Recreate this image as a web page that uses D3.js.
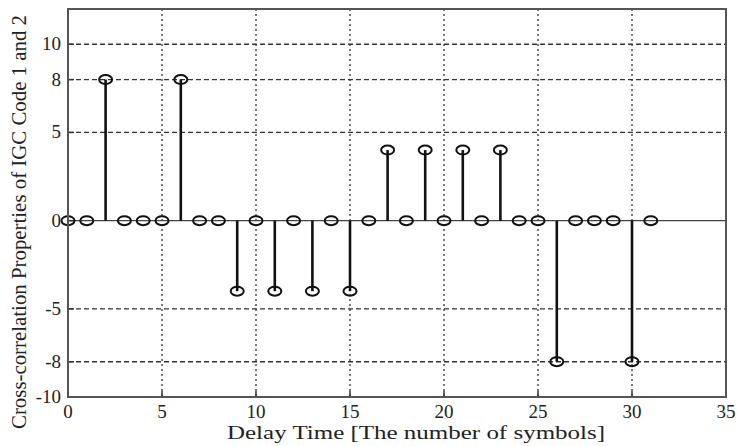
<!DOCTYPE html>
<html>
<head>
<meta charset="utf-8">
<script src="https://cdn.jsdelivr.net/npm/d3@7"></script>
<style>
  body { margin: 0; background: #fff; }
  text { font-family: "Liberation Serif", "Times New Roman", serif; fill: #222; }
</style>
</head>
<body>
<script>
// delay index and cross-correlation value
var delays = d3.range(0, 32);
var corrValues = [0, 0, 8, 0, 0, 0, 8, 0, 0, -4, 0, -4, 0, -4, 0, -4,
                  0, 4, 0, 4, 0, 4, 0, 4, 0, 0, -8, 0, 0, 0, -8, 0];
var xTicks = [0, 5, 10, 15, 20, 25, 30, 35];
var yTicks = [-10, -8, -5, 0, 5, 8, 10];

var W = 737, H = 446;
var svg = d3.select("body").append("svg")
    .attr("width", W)
    .attr("height", H);

var x = d3.scaleLinear().domain([0, 35]).range([68, 726]);
var y = d3.scaleLinear().domain([-10, 12]).range([397, 9]);

//grid
svg.append("g").selectAll("line")
    .data(xTicks.filter(function (d) { return d > 0 && d < 35; }))
    .enter().append("line")
    .attr("x1", function (d) { return x(d); })
    .attr("x2", function (d) { return x(d); })
    .attr("y1", y(12)).attr("y2", y(-10))
    .attr("stroke", "#333").attr("stroke-width", 1.3)
    .attr("stroke-dasharray", "2,3");

svg.append("g").selectAll("line")
    .data(yTicks.filter(function (d) { return d !== 0 && d !== -10; }))
    .enter().append("line")
    .attr("x1", x(0)).attr("x2", x(35))
    .attr("y1", function (d) { return y(d); })
    .attr("y2", function (d) { return y(d); })
    .attr("stroke", "#333").attr("stroke-width", 1.3)
    .attr("stroke-dasharray", "5,3");

//baseline
svg.append("line")
    .attr("x1", x(0)).attr("x2", x(35))
    .attr("y1", y(0)).attr("y2", y(0))
    .attr("stroke", "#444").attr("stroke-width", 1.2);

//ticks (inward)
svg.append("g").selectAll("line")
    .data(xTicks.slice(1, -1))
    .enter().append("line")
    .attr("x1", function (d) { return x(d); })
    .attr("x2", function (d) { return x(d); })
    .attr("y1", y(-10)).attr("y2", y(-10) - 6)
    .attr("stroke", "#333").attr("stroke-width", 1.5);

svg.append("g").selectAll("line")
    .data(yTicks.slice(1))
    .enter().append("line")
    .attr("x1", x(0)).attr("x2", x(0) + 6)
    .attr("y1", function (d) { return y(d); })
    .attr("y2", function (d) { return y(d); })
    .attr("stroke", "#333").attr("stroke-width", 1.5);

//stems
var pts = delays.map(function (d, i) { return { k: d, v: corrValues[i] }; });
svg.append("g").selectAll("line")
    .data(pts.filter(function (d) { return d.v !== 0; }))
    .enter().append("line")
    .attr("x1", function (d) { return x(d.k); })
    .attr("x2", function (d) { return x(d.k); })
    .attr("y1", y(0))
    .attr("y2", function (d) { return y(d.v); })
    .attr("stroke", "#111").attr("stroke-width", 2.6);

//markers
svg.append("g").selectAll("ellipse")
    .data(pts)
    .enter().append("ellipse")
    .attr("cx", function (d) { return x(d.k); })
    .attr("cy", function (d) { return y(d.v); })
    .attr("rx", 6.5).attr("ry", 4.5)
    .attr("fill", "none")
    .attr("stroke", "#111").attr("stroke-width", 2);

//frame
svg.append("rect")
    .attr("x", x(0)).attr("y", y(12))
    .attr("width", x(35) - x(0)).attr("height", y(-10) - y(12))
    .attr("fill", "none")
    .attr("stroke", "#555").attr("stroke-width", 2);

//tick labels
svg.append("g").selectAll("text")
    .data(xTicks)
    .enter().append("text")
    .attr("x", function (d) { return x(d); })
    .attr("y", 418)
    .attr("text-anchor", "middle")
    .attr("font-size", 19)
    .text(function (d) { return d; });

svg.append("g").selectAll("text")
    .data(yTicks)
    .enter().append("text")
    .attr("x", 61)
    .attr("y", function (d) { return y(d) + 6; })
    .attr("text-anchor", "end")
    .attr("font-size", 19)
    .text(function (d) { return d; });

//axis labels
svg.append("text")
    .attr("x", 416).attr("y", 439)
    .attr("text-anchor", "middle")
    .attr("font-size", 19)
    .attr("textLength", 378)
    .attr("lengthAdjust", "spacingAndGlyphs")
    .text("Delay Time [The number of symbols]");

svg.append("text")
    .attr("transform", "translate(26," + 222 + ") rotate(-90)")
    .attr("text-anchor", "middle")
    .attr("font-size", 21)
    .attr("textLength", 414)
    .attr("lengthAdjust", "spacingAndGlyphs")
    .text("Cross-correlation Properties of IGC Code 1 and 2");
</script>
</body>
</html>
